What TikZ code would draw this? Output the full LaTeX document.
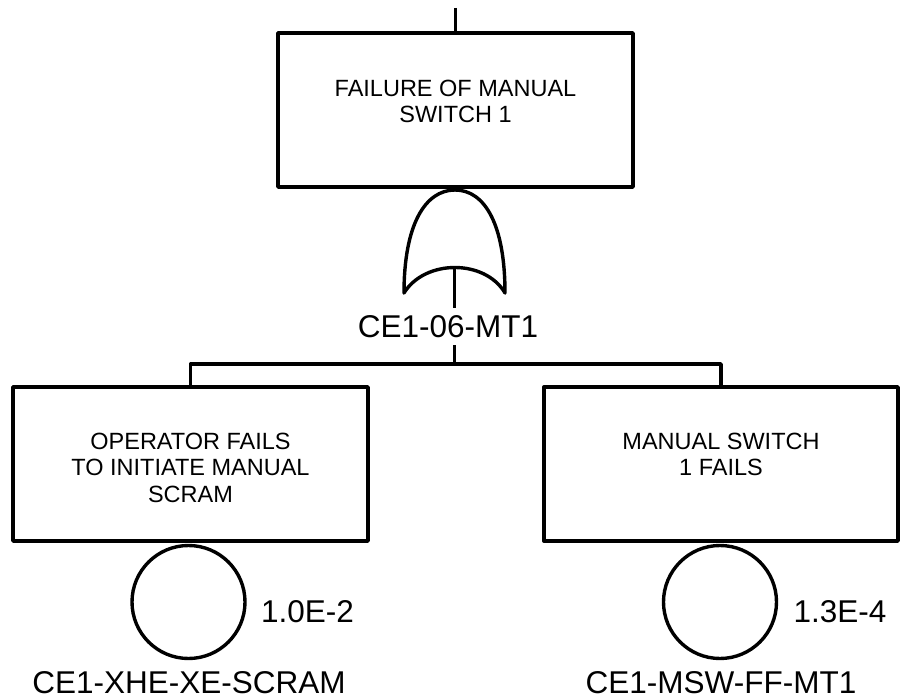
\documentclass[tikz,border=0pt]{standalone}
\usepackage{fontspec}
\setmainfont{Liberation Sans}
\begin{document}
\begin{tikzpicture}[x=1pt,y=-1pt,
  line width=3.4pt, line join=round,
  evbox/.style={draw, rectangle, inner sep=0pt, minimum width=#1, minimum height=154pt},
  boxtext/.style={font=\fontsize{23.5}{26.5}\selectfont, align=center, inner sep=0pt, anchor=north},
  basic/.style={draw, circle, inner sep=0pt, minimum size=113pt},
  lbl/.style={font=\fontsize{31.5}{34}\selectfont, inner sep=0pt}]
\useasboundingbox (0,0) rectangle (902,700);
% top event
\node[evbox=355pt, label={[boxtext, yshift=-47pt]north:FAILURE OF MANUAL\\SWITCH 1}] (tbox) at (455.5,110) {};
\coordinate (top) at (455.5,8);
\draw (top) -- (tbox.north);
% OR gate
\draw (404,293) .. controls (404,225) and (425,190) .. (455,190)
      .. controls (485,190) and (505,225) .. (505,293)
      .. controls (485,259) and (425,259) .. cycle;
\coordinate (gb) at (454.5,267.5);
\coordinate (j) at (454.5,364);
% children
\node[evbox=355pt, label={[boxtext, yshift=-46pt]north:OPERATOR FAILS\\TO INITIATE MANUAL\\SCRAM}] (lbox) at (190.5,464) {};
\node[evbox=354pt, label={[boxtext, yshift=-46pt]north:MANUAL SWITCH\\1 FAILS}] (rbox) at (721,464) {};
\draw (gb) -- (j);
\draw (lbox.north) |- (j) -| (rbox.north);
\node[lbl, fill=white, inner sep=7pt] (glbl) at (448,326.5) {CE1-06-MT1};
% basic events
\node[basic] (lc) at (188.5,602) {};
\node[basic] (rc) at (720,602) {};
\node[lbl] (lp) at (307.5,611.5) {1.0E-2};
\node[lbl] (rp) at (840,611.5) {1.3E-4};
\node[lbl] (ln) at (189,682.5) {CE1-XHE-XE-SCRAM};
\node[lbl] (rn) at (721,682.5) {CE1-MSW-FF-MT1};
\end{tikzpicture}
\end{document}
